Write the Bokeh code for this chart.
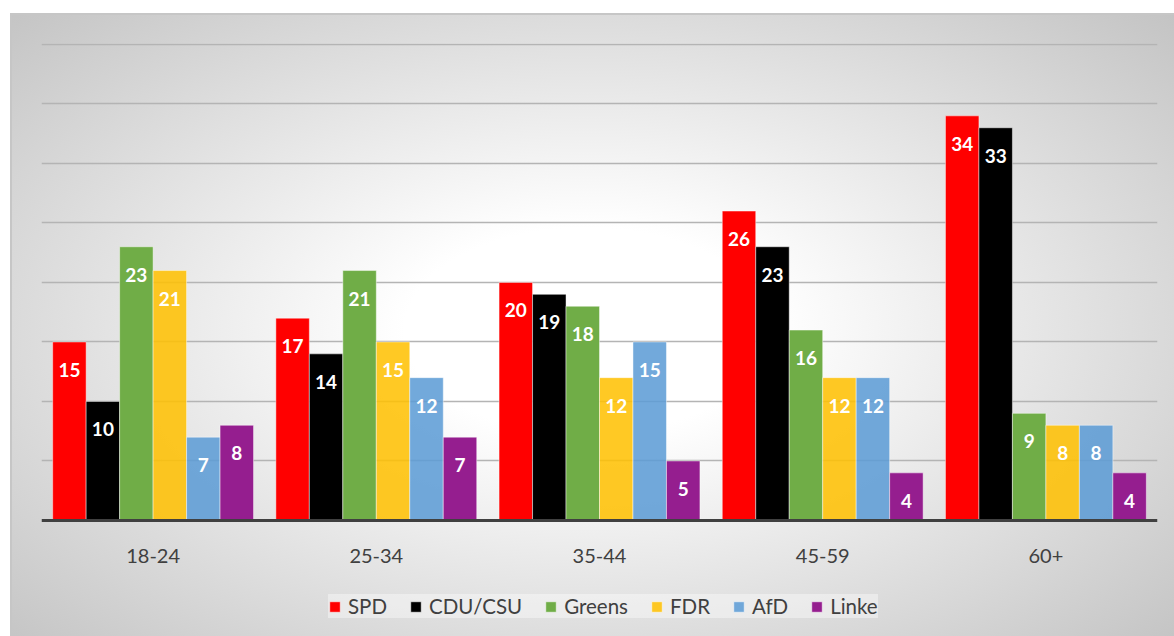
from bokeh.plotting import figure
from bokeh.models import (FactorRange, Range1d, Legend, LegendItem, ColumnDataSource,
                          FixedTicker, Span)
from bokeh.transform import dodge
from bokeh.core.properties import value
from bokeh.embed import file_html
from bokeh.resources import INLINE

# ---- data ----
categories = ["18-24", "25-34", "35-44", "45-59", "60+"]
parties = ["SPD", "CDU/CSU", "Greens", "FDR", "AfD", "Linke"]
spd = [15, 17, 20, 26, 34]
cdu_csu = [10, 14, 19, 23, 33]
greens = [23, 21, 18, 16, 9]
fdr = [21, 15, 12, 12, 8]
afd = [7, 12, 15, 12, 8]
linke = [8, 7, 5, 4, 4]
grid_values = [5, 10, 15, 20, 25, 30, 35, 40]

series = [spd, cdu_csu, greens, fdr, afd, linke]
colors = ["#FF0000", "#000000", "#70AD47", "#FFC000", "#5B9BD5", "#951E8F"]
alphas = [1.0, 1.0, 1.0, 0.86, 0.86, 1.0]

FONT = "Lato"

data = {"cat": categories, "zero": [0] * len(categories)}
for i, vals in enumerate(series):
    data[f"s{i}"] = vals
    data[f"l{i}"] = [str(v) for v in vals]
source = ColumnDataSource(data)

p = figure(x_range=FactorRange(*categories), y_range=Range1d(-9.75, 40.08),
           width=1174, height=636, output_backend="svg", toolbar_location=None,
           min_border_left=41, min_border_right=17, min_border_top=43,
           min_border_bottom=0,
           background_fill_color=None, border_fill_color=None,
           outline_line_color=None)

p.styles = {
    "background": "radial-gradient(ellipse farthest-corner at 50% 52%, #ffffff 22%, #c2c2c2 100%)",
    "box-shadow": "inset 10px 13px 0 #ffffff, inset 12px 15px 0 #c6c6c6",
}

p.xaxis.visible = False
p.yaxis.visible = False
p.ygrid.ticker = FixedTicker(ticks=grid_values)
p.ygrid.grid_line_color = "#b4b4b4"
p.ygrid.grid_line_width = 1.5
p.xgrid.grid_line_color = None

# category axis line at zero
p.add_layout(Span(location=0, dimension="width", line_width=3, line_color="#404040"))

bw = 0.15
offsets = [-0.375, -0.225, -0.075, 0.075, 0.225, 0.375]
items = []
for i, name in enumerate(parties):
    r = p.vbar(x=dodge("cat", offsets[i], range=p.x_range), top=f"s{i}", width=bw,
               source=source, fill_color=colors[i], fill_alpha=alphas[i],
               line_color="white", line_alpha=0.45, line_width=1)
    p.text(x=dodge("cat", offsets[i], range=p.x_range), y=f"s{i}", text=f"l{i}",
           source=source, text_align="center", text_baseline="middle",
           y_offset=28, text_color="white", text_font=value(FONT),
           text_font_style="bold", text_font_size="19px")
    items.append(LegendItem(label=name, renderers=[r]))

# category labels
p.text(x="cat", y="zero", text="cat", source=source, text_align="center",
       text_baseline="middle", y_offset=36, text_color="#404040",
       text_font=value(FONT), text_font_size="20px")

legend = Legend(items=items, orientation="horizontal", location=(287, 18),
                glyph_width=13, glyph_height=13, label_standoff=7, spacing=22,
                padding=12, margin=0,
                label_text_font=FONT, label_text_font_size="20.5px",
                label_text_color="#404040",
                background_fill_color="white", background_fill_alpha=0.4,
                border_line_color=None)
p.add_layout(legend, "center")

open("out.html", "w").write(file_html(p, INLINE))
